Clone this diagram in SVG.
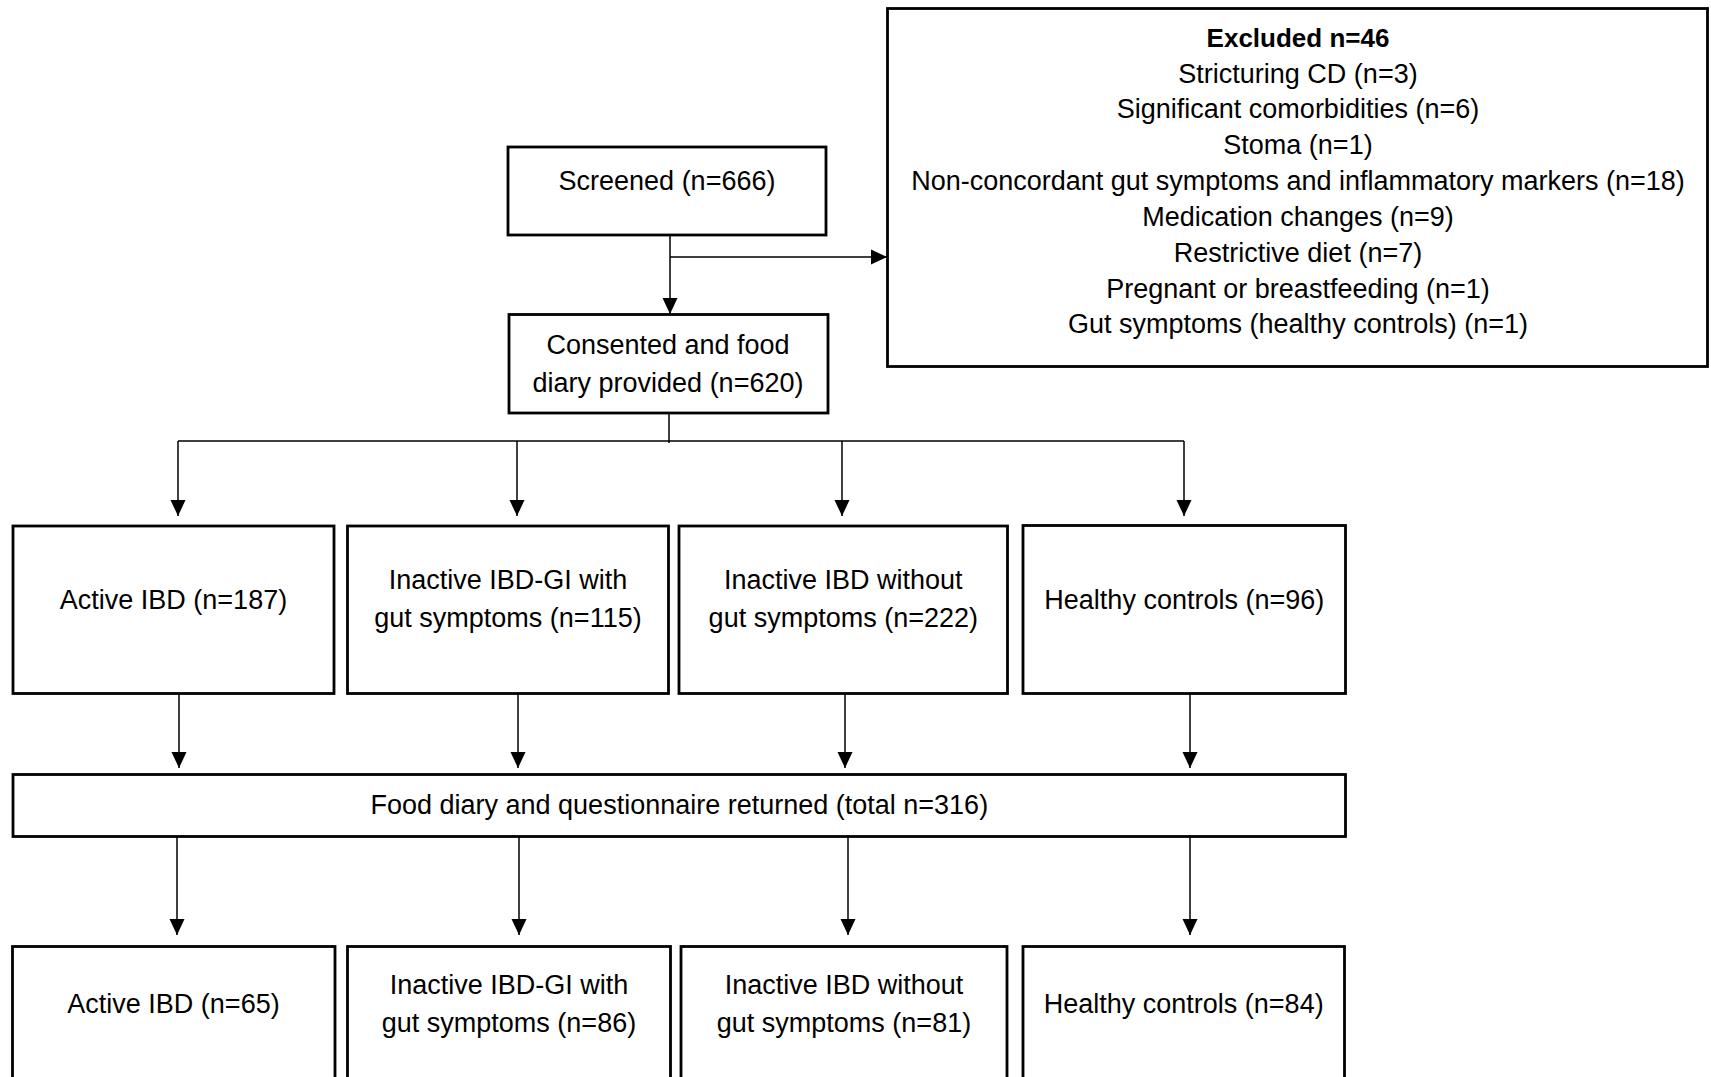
<svg xmlns="http://www.w3.org/2000/svg" width="1711" height="1077" viewBox="0 0 1711 1077">
<style>
.box{fill:#fff;stroke:#000;stroke-width:2.8}
.t{font-family:"Liberation Sans",Arial,sans-serif;font-size:27px;fill:#000;text-anchor:middle}
.b{font-weight:bold;font-size:26px}
.c{fill:none;stroke:#000;stroke-width:1.5}
</style>
<defs>
<marker id="ah" markerUnits="userSpaceOnUse" markerWidth="16" markerHeight="16" viewBox="0 0 16 16" refX="16" refY="8" orient="auto">
<path d="M0,0.5 L16,8 L0,15.5 Z" fill="#000"/>
</marker>
</defs>
<rect width="1711" height="1077" fill="#fff"/>
<g id="connectors">
<path class="c" d="M670,235 V314" marker-end="url(#ah)"/>
<path class="c" d="M670,257 H887" marker-end="url(#ah)"/>
<path class="c" d="M669,413 V443"/>
<path class="c" d="M178,441 H1184"/>
<path class="c" d="M178,441 V516" marker-end="url(#ah)"/>
<path class="c" d="M517,441 V516" marker-end="url(#ah)"/>
<path class="c" d="M842,441 V516" marker-end="url(#ah)"/>
<path class="c" d="M1184,441 V516" marker-end="url(#ah)"/>
<path class="c" d="M179,694 V768" marker-end="url(#ah)"/>
<path class="c" d="M518,694 V768" marker-end="url(#ah)"/>
<path class="c" d="M845,694 V768" marker-end="url(#ah)"/>
<path class="c" d="M1190,694 V768" marker-end="url(#ah)"/>
<path class="c" d="M177,837 V935" marker-end="url(#ah)"/>
<path class="c" d="M519,837 V935" marker-end="url(#ah)"/>
<path class="c" d="M848,837 V935" marker-end="url(#ah)"/>
<path class="c" d="M1190,837 V935" marker-end="url(#ah)"/>
</g>
<g id="screened">
<rect class="box" x="508" y="147" width="318" height="88"/>
<text class="t" x="667" y="189.5">Screened (n=666)</text>
</g>
<g id="excluded">
<rect class="box" x="887.5" y="8.5" width="820" height="358"/>
<text class="t b" x="1298" y="46.5">Excluded n=46</text>
<text class="t" x="1298" y="82.5">Stricturing CD (n=3)</text>
<text class="t" x="1298" y="118.3">Significant comorbidities (n=6)</text>
<text class="t" x="1298" y="154">Stoma (n=1)</text>
<text class="t" x="1298" y="190">Non-concordant gut symptoms and inflammatory markers (n=18)</text>
<text class="t" x="1298" y="225.8">Medication changes (n=9)</text>
<text class="t" x="1298" y="261.6">Restrictive diet (n=7)</text>
<text class="t" x="1298" y="297.5">Pregnant or breastfeeding (n=1)</text>
<text class="t" x="1298" y="333.3">Gut symptoms (healthy controls) (n=1)</text>
</g>
<g id="consented">
<rect class="box" x="509" y="314.5" width="319" height="98.5"/>
<text class="t" x="668" y="354">Consented and food</text>
<text class="t" x="668" y="392">diary provided (n=620)</text>
</g>
<g id="active1">
<rect class="box" x="13" y="526" width="321" height="167.5"/>
<text class="t" x="173.5" y="608.5">Active IBD (n=187)</text>
</g>
<g id="inactivegi1">
<rect class="box" x="347.5" y="526" width="321" height="167.5"/>
<text class="t" x="508" y="589">Inactive IBD-GI with</text>
<text class="t" x="508" y="627">gut symptoms (n=115)</text>
</g>
<g id="inactive1">
<rect class="box" x="679" y="526" width="328.5" height="167.5"/>
<text class="t" x="843.3" y="589">Inactive IBD without</text>
<text class="t" x="843.3" y="627">gut symptoms (n=222)</text>
</g>
<g id="healthy1">
<rect class="box" x="1023" y="525.5" width="322.5" height="168"/>
<text class="t" x="1184.3" y="608.5">Healthy controls (n=96)</text>
</g>
<g id="returned">
<rect class="box" x="13" y="774.5" width="1332.5" height="62"/>
<text class="t" x="679.3" y="813.5">Food diary and questionnaire returned (total n=316)</text>
</g>
<g id="active2">
<rect class="box" x="12.5" y="946.5" width="322.5" height="160"/>
<text class="t" x="173.5" y="1012.5">Active IBD (n=65)</text>
</g>
<g id="inactivegi2">
<rect class="box" x="347.5" y="946.5" width="323" height="160"/>
<text class="t" x="509" y="993.5">Inactive IBD-GI with</text>
<text class="t" x="509" y="1032">gut symptoms (n=86)</text>
</g>
<g id="inactive2">
<rect class="box" x="681" y="946.5" width="326" height="160"/>
<text class="t" x="844" y="993.5">Inactive IBD without</text>
<text class="t" x="844" y="1032">gut symptoms (n=81)</text>
</g>
<g id="healthy2">
<rect class="box" x="1023" y="946.5" width="321.5" height="160"/>
<text class="t" x="1183.7" y="1012.5">Healthy controls (n=84)</text>
</g>
</svg>
